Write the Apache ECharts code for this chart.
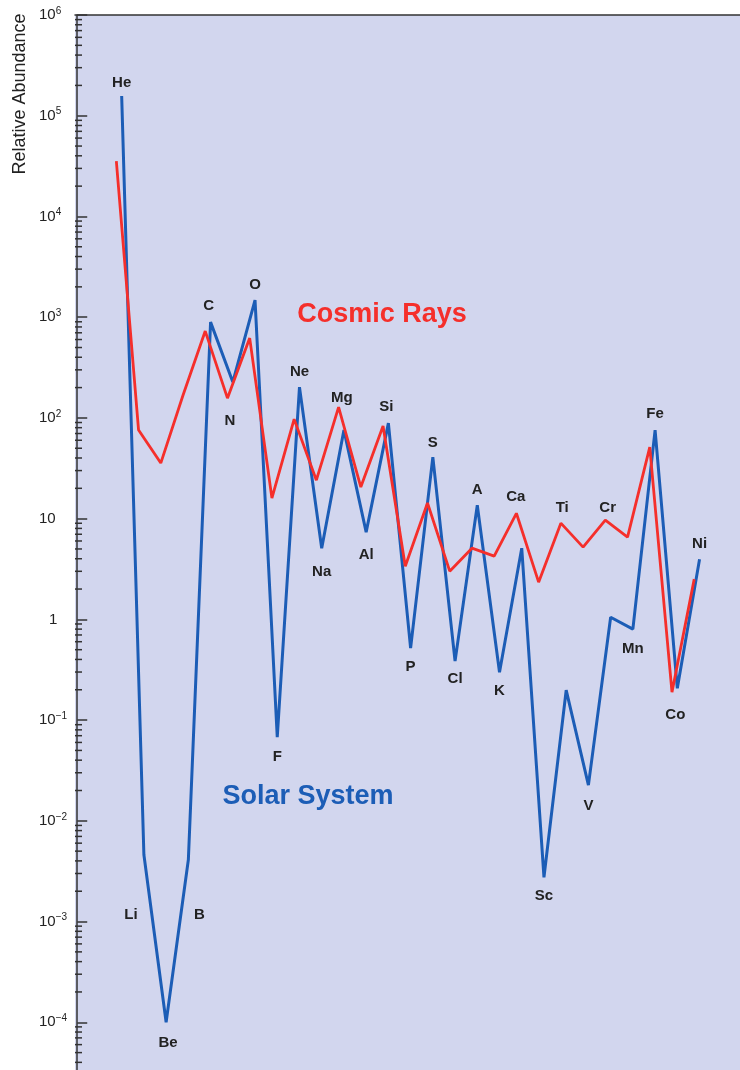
<!DOCTYPE html>
<html><head><meta charset="utf-8">
<script src="https://cdn.jsdelivr.net/npm/echarts@6/dist/echarts.min.js"></script>
<style>html,body{margin:0;padding:0;background:#fff;overflow:hidden;width:740px;height:1070px}#c{width:744px;height:1123px}</style>
</head><body><div id="c"></div>
<script>
// ---- data ----
const ELEMENTS = ['He','Li','Be','B','C','N','O','F','Ne','Na','Mg','Al','Si','P','S','Cl','A','K','Ca','Sc','Ti','V','Cr','Mn','Fe','Co','Ni'];
const ATOMIC_NUMBERS = [2,3,4,5,6,7,8,9,10,11,12,13,14,15,16,17,18,19,20,21,22,23,24,25,26,27,28];
const SOLAR_SYSTEM = [1.57e5,4.6e-3,1.0e-4,4.1e-3,893,227,1479,0.0676,202,5.09,75.7,7.35,88.7,0.518,40.8,0.385,13.6,0.299,5.09,2.75e-3,0.198,0.0226,1.05,0.80,75.7,0.207,3.96];
const COSMIC_RAYS = [3.55e4,75.7,35.6,168,728,157,620,16.0,97.3,24.1,128,20.6,83,3.37,14.3,3.01,5.09,4.25,11.3,2.34,9.02,5.21,9.66,6.55,51.3,0.189,2.51];
const Y_DECADES = [-5,-4,-3,-2,-1,0,1,2,3,4,5,6];
const MINOR_MULTIPLIERS = [2,3,4,5,6,7,8,9];

// ---- styling / placement (not data) ----
const RED_SHIFT = -0.24;
const LABEL_OFFSET = {
  He:[0,-13], Li:[-13,60], Be:[2,21], B:[11,55], C:[-2,-16], N:[-3,39], O:[0,-15], F:[0,20],
  Ne:[0,-15], Na:[0,24], Mg:[-2,-32], Al:[0,23], Si:[-2,-16], P:[0,19], S:[0,-14], Cl:[0,18],
  A:[0,-15], K:[0,19], Ca:[-6,-51], Sc:[0,19], Ti:[-4,-182], V:[0,21], Cr:[-3,-109], Mn:[0,20],
  Fe:[0,-16], Co:[-2,27], Ni:[0,-15]
};
const BLUE = '#1c5db6', RED = '#f52f2b', FONT = 'Liberation Sans, Arial, sans-serif';

const minorTicks = [];
Y_DECADES.slice(0, -1).forEach(d => MINOR_MULTIPLIERS.forEach(m => minorTicks.push([0, m * Math.pow(10, d)])));

const chart = echarts.init(document.getElementById('c'));
chart.setOption({
  animation: false,
  backgroundColor: '#ffffff',
  grid: { left: 75, top: 15, right: 0, bottom: 0, outerBoundsMode: 'none', containLabel: false,
          show: true, backgroundColor: '#d2d6ee', borderWidth: 0 },
  xAxis: {
    type: 'value', min: -0.1, max: 30, position: 'top',
    axisLine: { show: true, lineStyle: { color: '#333', width: 1.5 } },
    axisTick: { show: false }, axisLabel: { show: false }, splitLine: { show: false }
  },
  yAxis: {
    type: 'log', logBase: 10, min: 1e-5, max: 1e6, interval: 1,
    axisLine: { show: true, lineStyle: { color: '#333', width: 1.5 } },
    axisTick: { show: true, inside: true, length: 10, lineStyle: { color: '#333', width: 1.5 } },
    splitLine: { show: false },
    axisLabel: {
      align: 'left', margin: 36, color: '#222', fontFamily: FONT,
      formatter: v => {
        const e = Math.round(Math.log10(v));
        if (e === 0) return '{o|1}';
        if (e === 1) return '{b|10}';
        return '{b|10}{s|' + String(e).split('').map(c => c === '-' ? '−' : c).join('') + '}';
      },
      rich: {
        b: { fontSize: 15, lineHeight: 18, color: '#222', fontFamily: FONT },
        o: { fontSize: 15, lineHeight: 18, color: '#222', fontFamily: FONT, padding: [0,0,0,10] },
        s: { fontSize: 10, lineHeight: 18, color: '#222', fontFamily: FONT, verticalAlign: 'top', padding: [0,0,6,0] }
      }
    }
  },
  graphic: [
    { type: 'text', x: 20, y: 94, rotation: Math.PI / 2,
      style: { text: 'Relative Abundance', fontSize: 18, fontFamily: FONT, fill: '#222', textAlign: 'center', textVerticalAlign: 'middle' } },
    { type: 'text', x: 382, y: 315,
      style: { text: 'Cosmic Rays', fontSize: 27, fontWeight: 'bold', fontFamily: FONT, fill: RED, textAlign: 'center', textVerticalAlign: 'middle' } },
    { type: 'text', x: 308, y: 797,
      style: { text: 'Solar System', fontSize: 27, fontWeight: 'bold', fontFamily: FONT, fill: BLUE, textAlign: 'center', textVerticalAlign: 'middle' } }
  ],
  series: [
    {
      type: 'custom', silent: true, z: 3,
      data: minorTicks,
      renderItem: (params, api) => {
        const y = api.coord([0, api.value(1)])[1];
        const x0 = params.coordSys.x;
        return { type: 'line', shape: { x1: x0, y1: y, x2: x0 + 7, y2: y }, style: { stroke: '#333', lineWidth: 1.5 } };
      }
    },
    {
      name: 'Solar System', type: 'line', z: 4,
      showSymbol: true, showAllSymbol: true, symbol: 'circle', symbolSize: 1,
      itemStyle: { color: 'rgba(0,0,0,0)', borderWidth: 0 },
      lineStyle: { color: BLUE, width: 3 },
      data: ELEMENTS.map((el, i) => ({
        name: el, value: [ATOMIC_NUMBERS[i], SOLAR_SYSTEM[i]],
        label: { offset: LABEL_OFFSET[el] }
      })),
      label: {
        show: true, position: 'inside', formatter: '{b}', fontSize: 15, fontWeight: 'bold',
        fontFamily: FONT, color: '#222', align: 'center', verticalAlign: 'middle'
      }
    },
    {
      name: 'Cosmic Rays', type: 'line', z: 5, showSymbol: false,
      lineStyle: { color: RED, width: 2.8 },
      data: ELEMENTS.map((el, i) => [ATOMIC_NUMBERS[i] + RED_SHIFT, COSMIC_RAYS[i]])
    }
  ]
});
</script>
</body></html>
